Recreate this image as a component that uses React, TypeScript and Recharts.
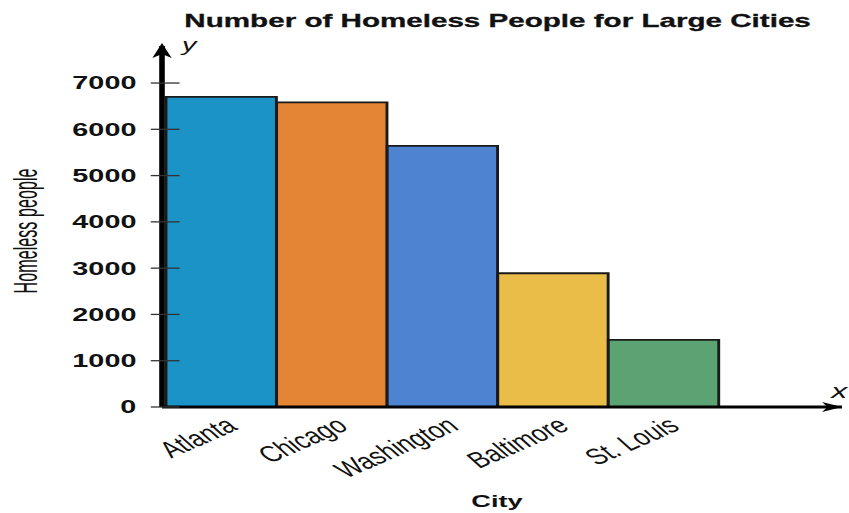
import { BarChart, Bar, XAxis, YAxis, Cell } from 'recharts'

const cities = ['Atlanta', 'Chicago', 'Washington', 'Baltimore', 'St. Louis']
const homeless = [6700, 6580, 5640, 2890, 1450]
const barColors = ['#1b93c7', '#e38535', '#4d83d1', '#eabd48', '#5ca374']
const yTicks = [0, 1000, 2000, 3000, 4000, 5000, 6000, 7000]

const data = cities.map((city, i) => ({ city, people: homeless[i] }))

// the reference is stretched sideways, so draw narrow and scale x
const SX = 1.6
const W = 849 / SX
const H = 513
const FONT = '"Liberation Sans", Arial, sans-serif'

const YTick = ({ x, y, payload }: any) => (
  <g>
    <line x1={x - 7} x2={x + 11} y1={y} y2={y} stroke="#333" strokeWidth={1.3} />
    <text x={x - 16} y={y} dy="0.36em" textAnchor="end" fontSize={18} fontWeight="bold" fontFamily={FONT} fill="#111">
      {payload.value}
    </text>
  </g>
)

// condensed, slanted category names
const XTick = ({ x, y, payload }: any) => (
  <text
    transform={`translate(${x + 11},${y + 22}) rotate(-35) scale(0.72,1)`}
    textAnchor="end"
    fontSize={23}
    fontFamily={FONT}
    fill="#111"
  >
    {payload.value}
  </text>
)

export default function App() {
  return (
    <div style={{ position: 'absolute', left: 0, top: 0, width: W, height: H, transform: `scaleX(${SX})`, transformOrigin: '0 0' }}>
      <svg width={0} height={0} style={{ position: 'absolute' }}>
        <defs>
          <marker id="arrowY" markerUnits="userSpaceOnUse" markerWidth={16} markerHeight={14} viewBox="0 -7 16 14" refX={12} refY={0} orient="auto-start-reverse">
            <path d="M0,-6 L15,0 L0,6 L4,0 Z" fill="#000" />
          </marker>
          <marker id="arrowX" markerUnits="userSpaceOnUse" markerWidth={14} markerHeight={12} viewBox="0 -6 14 12" refX={12.5} refY={0} orient="auto">
            <path d="M0,-5 L12.5,0 L0,5 L3.5,0 Z" fill="#000" />
          </marker>
        </defs>
      </svg>
      <BarChart width={W} height={H} data={data} margin={{ top: 46, right: 4.4, bottom: 0, left: 0 }} barCategoryGap={0}>
        <XAxis
          dataKey="city"
          height={106}
          padding={{ left: 2.5, right: 76.9 }}
          tickSize={0}
          tickMargin={0}
          interval={0}
          tick={<XTick />}
          axisLine={{ stroke: '#000', strokeWidth: 3, markerEnd: 'url(#arrowX)' }}
        />
        <YAxis
          width={101.25}
          domain={[0, 7800]}
          ticks={yTicks}
          interval={0}
          tickSize={0}
          tickMargin={0}
          tick={<YTick />}
          axisLine={{ stroke: '#000', strokeWidth: 3.5, markerStart: 'url(#arrowY)' }}
        />
        <Bar dataKey="people" stroke="#1a1a1a" strokeWidth={1.8} isAnimationActive={false}>
          {data.map((d, i) => (
            <Cell key={d.city} fill={barColors[i]} />
          ))}
        </Bar>
      </BarChart>
      <svg width={W} height={H} style={{ position: 'absolute', left: 0, top: 0, pointerEvents: 'none' }}>
        <text x={311} y={27} textAnchor="middle" fontSize={18.5} fontWeight="bold" fontFamily={FONT} fill="#111" stroke="#111" strokeWidth={0.3}>
          Number of Homeless People for Large Cities
        </text>
        <text x={113.75} y={51} fontSize={18} fontStyle="italic" fontFamily={FONT} fill="#111">y</text>
        <text x={519.5} y={398} fontSize={20} fontStyle="italic" fontFamily={FONT} fill="#111">x</text>
        <text
          transform="translate(23,231) rotate(-90)"
          textAnchor="middle"
          fontSize={21}
          fontFamily={FONT}
          fill="#111"
          textLength={125}
          lengthAdjust="spacingAndGlyphs"
        >
          Homeless people
        </text>
        <text x={310.6} y={507} textAnchor="middle" fontSize={17} fontWeight="bold" fontFamily={FONT} fill="#111">
          City
        </text>
      </svg>
    </div>
  )
}
